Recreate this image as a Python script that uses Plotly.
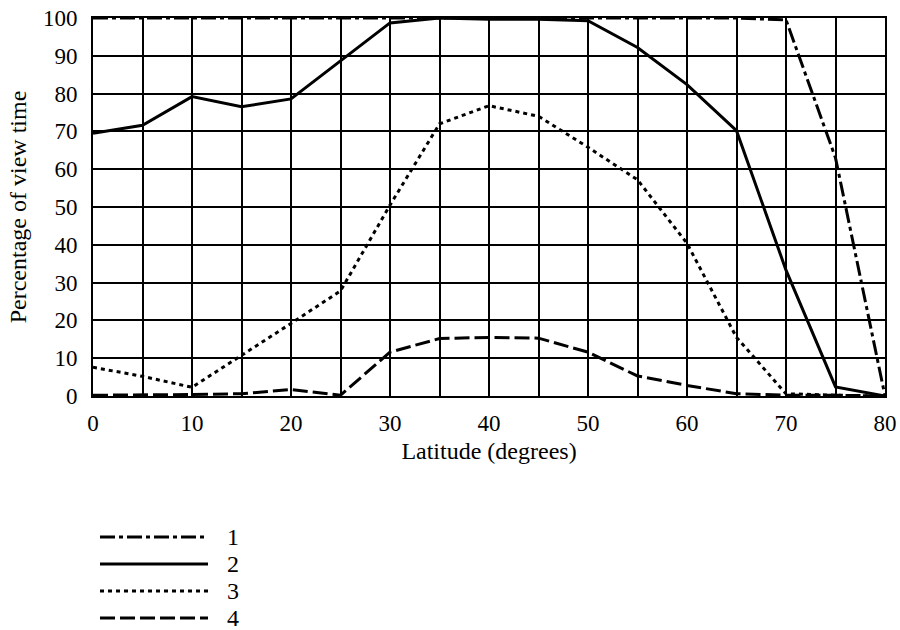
import plotly.graph_objects as go

# ---------------------------------------------------------
# data
# ---------------------------------------------------------
latitud = [0, 5, 10, 15, 20, 25, 30, 35, 40, 45, 50, 55, 60, 65, 70, 75, 80]

serie_1 = [100, 100, 100, 100, 100, 100, 100, 100, 100, 100, 100, 100, 100, 100, 99.5, 63, 0]
serie_2 = [69.5, 71.6, 79.2, 76.5, 78.6, 88.7, 98.7, 100, 99.7, 99.7, 99.3, 92.2, 82.4, 70.2, 33.3, 2.4, 0]
serie_3 = [7.6, 5.2, 2.3, 10.7, 19.2, 27.8, 50.5, 72, 76.8, 74, 65.8, 57.2, 40.4, 15.5, 0.6, 0.2, 0]
serie_4 = [0.2, 0.2, 0.4, 0.6, 1.7, 0.2, 11.6, 15.2, 15.5, 15.3, 11.6, 5.3, 2.8, 0.6, 0.2, 0.2, 0]

nombres = ["1", "2", "3", "4"]
series = [serie_1, serie_2, serie_3, serie_4]
estilos = ["15px,4px,4px,4px", "solid", "4px,4px", "15px,5px"]

FUENTE = "Liberation Serif, Times New Roman, serif"
TAM_TICK = 23
TAM_TITULO = 24

W, H = 900, 630
L, R, T, B = 93, 15, 18, 234
pw, ph = W - L - R, H - T - B


def px_x(x):
    # window pixel -> paper coordinate
    return (x - L) / pw


def px_y(y):
    return (H - B - y) / ph


fig = go.Figure()

for nombre, valores, dash in zip(nombres, series, estilos):
    fig.add_trace(go.Scatter(
        x=latitud,
        y=valores,
        mode="lines",
        name=nombre,
        line=dict(color="black", width=3, dash=dash),
        showlegend=False
    ))

# legend drawn as shapes so the sample lines are long like the original
filas_y = [537, 564, 591, 618]
for nombre, dash, fy in zip(nombres, estilos, filas_y):
    fig.add_shape(
        type="line", xref="paper", yref="paper",
        x0=px_x(100), x1=px_x(208), y0=px_y(fy), y1=px_y(fy),
        line=dict(color="black", width=3, dash=dash)
    )
    fig.add_annotation(
        text=nombre, xref="paper", yref="paper",
        x=px_x(225), y=px_y(fy), xanchor="left", yanchor="middle",
        showarrow=False, font=dict(family=FUENTE, size=TAM_TITULO, color="black")
    )

fig.update_layout(
    width=W,
    height=H,
    margin=dict(l=L, r=R, t=T, b=B),
    paper_bgcolor="white",
    plot_bgcolor="white",
    font=dict(family=FUENTE, size=TAM_TICK, color="black"),
    showlegend=False
)

fig.update_xaxes(
    range=[0, 80],
    tickvals=[0, 10, 20, 30, 40, 50, 60, 70, 80],
    showgrid=True,
    gridcolor="black",
    gridwidth=1.5,
    minor=dict(dtick=5, showgrid=True, gridcolor="black", gridwidth=1.5),
    zeroline=False,
    showline=True,
    linecolor="black",
    linewidth=2,
    mirror=True,
    ticks="",
    ticklabelstandoff=5,
    automargin=False,
    title=dict(text="Latitude (degrees)", standoff=8, font=dict(size=TAM_TITULO))
)

fig.update_yaxes(
    range=[0, 100],
    dtick=10,
    showgrid=True,
    gridcolor="black",
    gridwidth=1.5,
    zeroline=False,
    showline=True,
    linecolor="black",
    linewidth=2,
    mirror=True,
    ticks="",
    ticklabelstandoff=9,
    automargin=False,
    title=dict(text="Percentage of view time", standoff=10, font=dict(size=TAM_TITULO))
)

# the page body has a default 8px margin; drop it so the figure sits at 0,0
fig.write_html(
    "out.html",
    config={"displayModeBar": False},
    post_script="document.body.style.margin='0';document.body.style.overflow='hidden';"
)
